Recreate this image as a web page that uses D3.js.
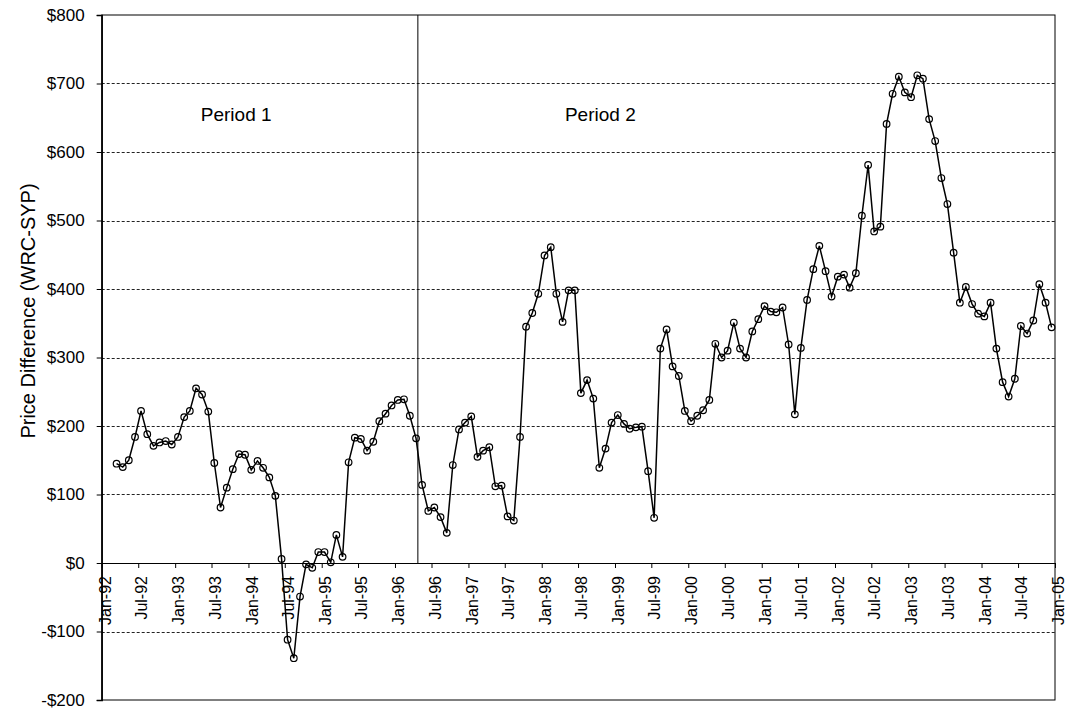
<!DOCTYPE html>
<html>
<head>
<meta charset="utf-8">
<script src="https://cdn.jsdelivr.net/npm/d3@7"></script>
<style>
  html, body { margin: 0; padding: 0; background: #fff; }
  svg { display: block; font-family: "Liberation Sans", Arial, sans-serif; }
</style>
</head>
<body>
<svg id="chart" width="1066" height="713"></svg>
<script>
// ---- data ----
const startYear = 1992, startMonth = 2; // first observation: Mar-92
const priceDiff = [
  // 1992 (Mar-Dec)
  145, 140, 150, 184, 222, 188, 171, 176, 178, 173,
  // 1993
  184, 213, 222, 255, 246, 221, 146, 81, 110, 137, 159, 158,
  // 1994
  136, 149, 139, 125, 98, 6, -112, -139, -49, -2, -7, 16,
  // 1995
  16, 1, 41, 9, 147, 183, 181, 164, 177, 207, 218, 230,
  // 1996
  238, 239, 215, 182, 114, 76, 81, 67, 44, 143, 195, 205,
  // 1997
  214, 155, 164, 169, 112, 113, 68, 62, 184, 345, 365, 393,
  // 1998
  449, 461, 393, 352, 398, 398, 248, 267, 240, 139, 167, 205,
  // 1999
  216, 203, 196, 198, 199, 134, 66, 313, 341, 287, 273, 222,
  // 2000
  207, 215, 223, 238, 320, 300, 310, 351, 313, 300, 338, 356,
  // 2001
  375, 367, 366, 373, 319, 217, 314, 384, 429, 463, 426, 389,
  // 2002
  418, 421, 402, 423, 507, 581, 484, 491, 641, 685, 710, 687,
  // 2003
  680, 712, 707, 648, 616, 562, 524, 453, 380, 403, 378, 364,
  // 2004
  360, 380, 313, 264, 243, 269, 346, 335, 354, 407, 380, 344
];
const yTicks = [-200, -100, 0, 100, 200, 300, 400, 500, 600, 700, 800];
const xDomain = [new Date(1992, 0, 1), new Date(2005, 0, 1)];
const periodBreak = new Date(1996, 3, 24);
const periodLabels = [
  { text: "Period 1", date: new Date(1993, 10, 1), value: 655 },
  { text: "Period 2", date: new Date(1998, 9, 20), value: 655 }
];
const yTitle = "Price Difference (WRC-SYP)";

(function () {
const data = priceDiff.map((v, i) => ({ date: new Date(startYear, startMonth + i, 15), value: v }));

const svg = d3.select("#chart");
const pL = 101.7, pR = 1055, pT = 15, pB = 700;

const x = d3.scaleTime().domain(xDomain).range([pL, pR]);
const y = d3.scaleLinear().domain([-200, 800]).range([pB, pT]);

const fmtMoney = d => (d < 0 ? "-$" : "$") + Math.abs(d);
const fmtDate = d3.timeFormat("%b-%y");

// gridlines
svg.append("g")
  .selectAll("line")
  .data(yTicks.filter(d => d !== 0 && d !== -200 && d !== 800))
  .join("line")
  .attr("x1", pL).attr("x2", pR)
  .attr("y1", d => Math.round(y(d)) + 0.5).attr("y2", d => Math.round(y(d)) + 0.5)
  .attr("stroke", "#222").attr("stroke-width", 1)
  .attr("stroke-dasharray", "3,2");

// frame
svg.append("rect")
  .attr("x", pL).attr("y", pT)
  .attr("width", pR - pL).attr("height", pB - pT)
  .attr("fill", "none").attr("stroke", "#000").attr("stroke-width", 1);

// y axis
const yAxis = svg.append("g")
  .attr("transform", `translate(${pL},0)`)
  .call(d3.axisLeft(y).tickValues(yTicks).tickFormat(fmtMoney).tickSize(5).tickPadding(12));
yAxis.select(".domain").attr("stroke", "#000").attr("stroke-width", 1.5);
yAxis.selectAll("text").attr("font-size", 17).attr("fill", "#000")
  .attr("font-family", "'Liberation Sans', Arial, sans-serif");

// x axis at y=0
const xAxis = svg.append("g")
  .attr("transform", `translate(0,${y(0)})`)
  .call(d3.axisBottom(x).ticks(d3.timeMonth.every(6)).tickFormat(fmtDate).tickSize(5).tickSizeOuter(0));
xAxis.select(".domain").attr("stroke", "#000").attr("stroke-width", 1.2);
xAxis.selectAll(".tick text")
  .attr("font-size", 16).attr("fill", "#000")
  .attr("font-family", "'Liberation Sans', Arial, sans-serif")
  .attr("text-anchor", "end")
  .attr("x", -13).attr("y", 0).attr("dy", "0.35em")
  .attr("transform", "translate(3,0) rotate(-90)");

// period divider
svg.append("line")
  .attr("x1", x(periodBreak)).attr("x2", x(periodBreak))
  .attr("y1", pT).attr("y2", y(0))
  .attr("stroke", "#000").attr("stroke-width", 1);

// period labels
svg.append("g").selectAll("text")
  .data(periodLabels).join("text")
  .attr("x", d => x(d.date)).attr("y", d => y(d.value))
  .attr("dy", "0.35em")
  .attr("text-anchor", "middle")
  .attr("font-size", 19).attr("fill", "#000")
  .text(d => d.text);

// y title
svg.append("text")
  .attr("transform", `translate(28,311) rotate(-90)`)
  .attr("text-anchor", "middle").attr("dy", "0.35em")
  .attr("font-size", 20).attr("fill", "#000")
  .text(yTitle);

// line
svg.append("path")
  .datum(data)
  .attr("fill", "none").attr("stroke", "#000").attr("stroke-width", 1.5)
  .attr("d", d3.line().x(d => x(d.date)).y(d => y(d.value)));

// markers
svg.append("g").selectAll("circle")
  .data(data).join("circle")
  .attr("cx", d => x(d.date)).attr("cy", d => y(d.value))
  .attr("r", 3.3)
  .attr("fill", "none").attr("stroke", "#000").attr("stroke-width", 1.2);
})();
</script>
</body>
</html>
